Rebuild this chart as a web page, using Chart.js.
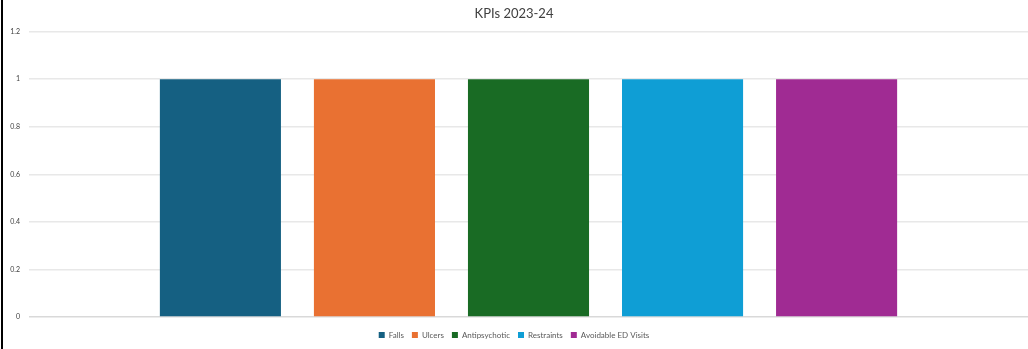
<!DOCTYPE html>
<html>
<head>
<meta charset="utf-8">
<script src="https://cdn.jsdelivr.net/npm/chart.js@4/dist/chart.umd.min.js"></script>
<style>
  body { margin: 0; background: #fff; }
  #wrap { position: relative; width: 1028px; height: 349px; }
  #edge { position: absolute; left: 1px; top: 0; width: 2px; height: 349px; background: #000; z-index: 2; }
</style>
</head>
<body>
<div id="wrap">
  <div id="edge"></div>
  <canvas id="kpiChart" width="1028" height="349"></canvas>
</div>
<script>
const categories = ['Falls', 'Ulcers', 'Antipsychotic', 'Restraints', 'Avoidable ED Visits'];
const values = [1, 1, 1, 1, 1];
const yTicks = [0, 0.2, 0.4, 0.6, 0.8, 1, 1.2];
const colors = ['#156082', '#E97132', '#196B24', '#0F9ED5', '#A02B93'];

const ctx = document.getElementById('kpiChart').getContext('2d');

const config = {
  type: 'bar',
  data: {
    labels: [''],
    datasets: categories.map((name, i) => ({
      label: name,
      data: [values[i]],
      backgroundColor: colors[i],
      borderWidth: 0,
      categoryPercentage: 0.771,
      barPercentage: 0.786
    }))
  },
  options: {
    responsive: false,
    animation: false,
    layout: { padding: { left: 0, right: 0, top: 0, bottom: 0 } },
    plugins: {
      title: {
        display: true,
        text: 'KPIs 2023-24',
        color: '#404040',
        font: { family: 'Lato', size: 13, weight: 'normal' },
        padding: { top: 6, bottom: 10 }
      },
      legend: {
        position: 'bottom',
        labels: {
          boxWidth: 6,
          boxHeight: 6,
          padding: 8,
          color: '#595959',
          font: { family: 'Lato', size: 8 }
        }
      },
      tooltip: { enabled: false }
    },
    scales: {
      x: {
        ticks: { display: false },
        grid: { display: false },
        border: { display: false },
        afterFit: axis => { axis.height = 6; }
      },
      y: {
        min: 0,
        max: 1.2,
        afterBuildTicks: axis => { axis.ticks = yTicks.map(v => ({ value: v })); },
        afterFit: axis => { axis.width = 29; },
        border: { display: false },
        grid: {
          drawTicks: false,
          color: c => c.tick && c.tick.value === 0 ? '#d9d9d9' : '#e8e8e8',
          lineWidth: 1.5
        },
        ticks: {
          padding: 9,
          color: '#404040',
          font: { family: 'Lato', size: 7 },
          callback: v => String(Number(v.toFixed(1)))
        }
      }
    }
  }
};

new Chart(ctx, config);
</script>
</body>
</html>
